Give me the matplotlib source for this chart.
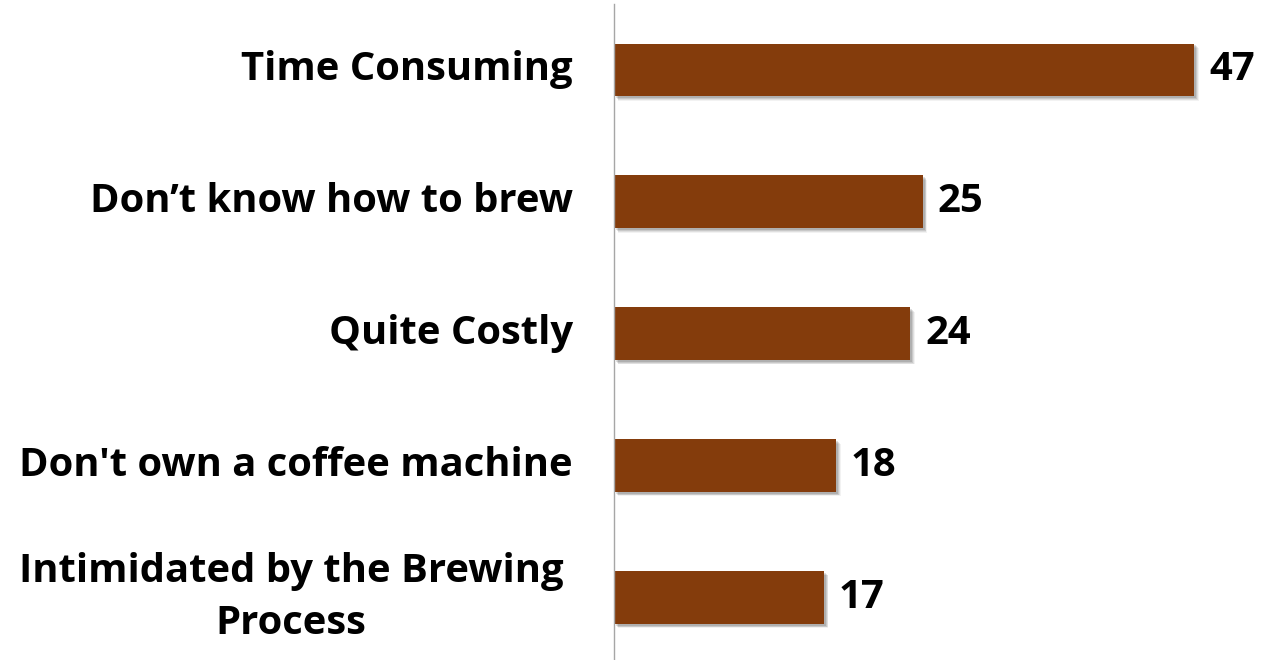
import matplotlib
matplotlib.use("Agg")
import matplotlib.pyplot as plt
import matplotlib.patheffects as pe
import matplotlib.transforms as mtransforms

# Reasons for not brewing coffee at home (% of respondents)
categories = [
    "Time Consuming",
    "Don\u2019t know how to brew",
    "Quite Costly",
    "Don't own a coffee machine",
    "Intimidated by the Brewing\nProcess",
]
values = [47, 25, 24, 18, 17]

bar_color = "#843C0C"
font = "Open Sans"
fsize = 28.8

fig = plt.figure(figsize=(12.79, 6.60), dpi=100)
ax = fig.add_axes([614 / 1279, -0.005, 620 / 1279, 0.999])

positions = list(range(len(categories)))

# soft drop shadow built from a few stacked offset copies
shadow = [
    pe.SimplePatchShadow(offset=(o, -o), shadow_rgbFace="#000000", alpha=a)
    for o, a in [(3.2, 0.05), (2.6, 0.08), (2.0, 0.10), (1.4, 0.12)]
]
bars = ax.barh(positions, values, height=0.4, color=bar_color, zorder=3)
for b in bars:
    b.set_path_effects(shadow + [pe.Normal()])

ax.set_xlim(0, 50.2)
ax.set_ylim(len(categories) - 0.5, -0.5)

# value labels at the bar ends
for p, v in zip(positions, values):
    ax.annotate(str(v), xy=(v, p), xytext=(10.5, 0), textcoords="offset points",
                ha="left", va="center", fontsize=fsize, fontweight="bold",
                family=font, color="#000000", clip_on=False)

# category labels to the left of the axis line
trans = mtransforms.blended_transform_factory(ax.transAxes, ax.transData)
for p, c in zip(positions, categories):
    if "\n" in c:
        ax.text(-0.082, p, c, transform=trans, ha="right", va="center",
                multialignment="center", fontsize=fsize, fontweight="bold",
                family=font, color="#000000", linespacing=1.42)
    else:
        ax.text(-0.066, p, c, transform=trans, ha="right", va="center",
                fontsize=fsize, fontweight="bold", family=font, color="#000000")

ax.set_xticks([])
ax.set_yticks([])
for side in ["top", "right", "bottom"]:
    ax.spines[side].set_visible(False)
ax.spines["left"].set_color("#A6A6A6")
ax.spines["left"].set_linewidth(1.0)
ax.spines["left"].set_zorder(5)
ax.patch.set_visible(False)

fig.savefig("out.png", dpi=100, facecolor="white")
